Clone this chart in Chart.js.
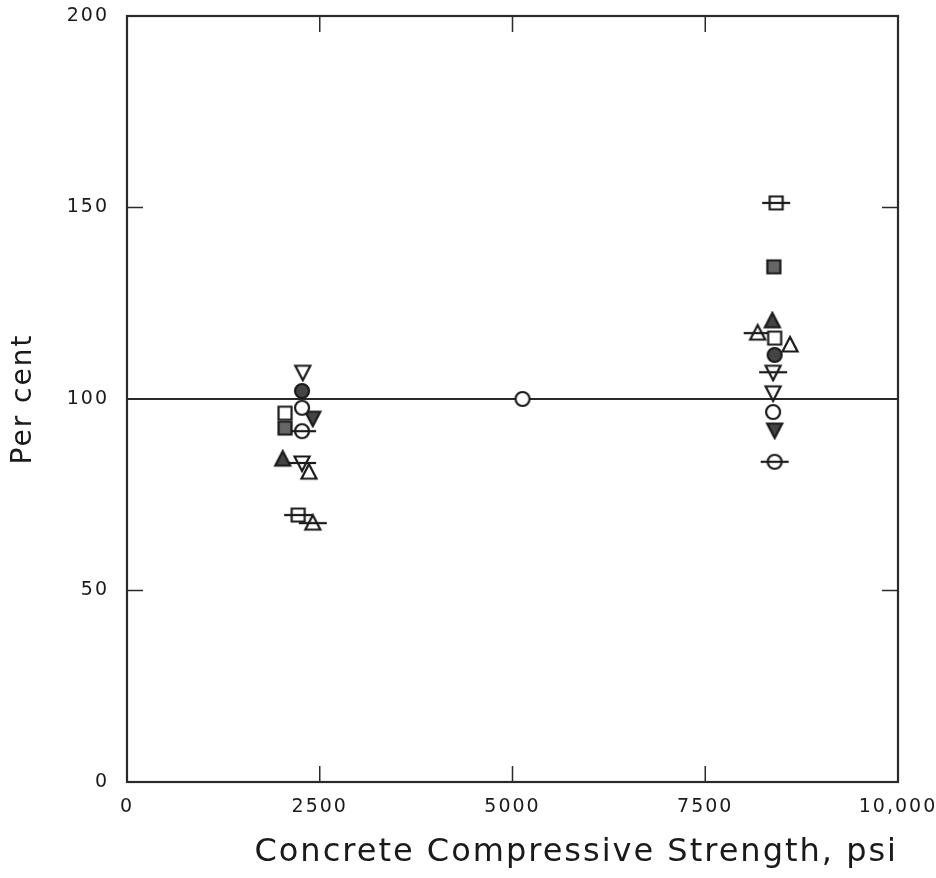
<!DOCTYPE html>
<html>
<head>
<meta charset="utf-8">
<title>Per cent vs Concrete Compressive Strength</title>
<script src="https://cdn.jsdelivr.net/npm/chart.js@4.4.1/dist/chart.umd.min.js"></script>
<style>
    html, body { margin: 0; padding: 0; background: #fff; }
    #chart { display: block; }
</style>
</head>
<body>
<canvas id="chart" width="936" height="878"></canvas>
<script>
// Symbols, one per series (each series has a low- and a high-strength point)
const symbols = ['openDown', 'filledCircle', 'openSquare', 'openCircle', 'filledDown', 'graySquare',
                 'barCircle', 'filledUp', 'barDown', 'openUp', 'barSquare', 'barUp'];
// Low-strength group (about 2300 psi)
const lowStrength = [2280, 2270, 2050, 2270, 2410, 2050, 2270, 2020, 2270, 2360, 2220, 2410];
const lowPercent  = [107.0, 102.1, 96.3, 97.7, 95.0, 92.4, 91.6, 84.3, 83.3, 80.9, 69.7, 67.6];
// High-strength group (about 8400 psi)
const highStrength = [8380, 8400, 8400, 8380, 8400, 8390, 8400, 8370, 8380, 8600, 8420, 8180];
const highPercent  = [101.6, 111.5, 115.9, 96.6, 91.9, 134.5, 83.6, 120.4, 107.0, 114.1, 151.2, 117.2];
// Reference specimen and 100 % line
const controlStrength = [5130];
const controlPercent = [100];
const refLineX = [0, 10000];
const refLineY = [100, 100];
// Axis ticks
const xTicks = [0, 2500, 5000, 7500, 10000];
const xTickLabels = ['0', '2500', '5000', '7500', '10,000'];
const yTicks = [0, 50, 100, 150, 200];

const INK = '#1a1a1a';

// Draw a marker glyph on a small canvas
function makeMarker(name) {
    const bar = name.startsWith('bar');
    const w = bar ? 30 : 20, h = 20;
    const c = document.createElement('canvas');
    c.width = w; c.height = h;
    const g = c.getContext('2d');
    const cx = w / 2, cy = h / 2;
    let fill = '#fff';
    if (name.startsWith('filled')) fill = '#444';
    if (name === 'graySquare') fill = '#666';
    g.lineWidth = 2.2;
    g.strokeStyle = INK;
    g.fillStyle = fill;
    g.beginPath();
    if (/Circle/.test(name)) {
        g.arc(cx, cy, 7, 0, Math.PI * 2);
    } else if (/Square/.test(name)) {
        g.rect(cx - 6.5, cy - 6.5, 13, 13);
    } else if (/Up/.test(name)) {
        g.moveTo(cx, cy - 8); g.lineTo(cx + 7.5, cy + 6.5); g.lineTo(cx - 7.5, cy + 6.5); g.closePath();
    } else {
        g.moveTo(cx, cy + 8); g.lineTo(cx + 7.5, cy - 6.5); g.lineTo(cx - 7.5, cy - 6.5); g.closePath();
    }
    g.fill();
    g.stroke();
    if (bar) {
        g.beginPath();
        g.moveTo(1, cy); g.lineTo(w - 1, cy);
        g.stroke();
    }
    return c;
}

const datasets = symbols.map((s, i) => ({
    label: s,
    data: [{ x: lowStrength[i], y: lowPercent[i] }, { x: highStrength[i], y: highPercent[i] }],
    pointStyle: makeMarker(s),
    pointRadius: 8,
    showLine: false,
    order: 1
}));

datasets.push({
    label: 'control',
    data: controlStrength.map((x, i) => ({ x: x, y: controlPercent[i] })),
    pointStyle: makeMarker('openCircle'),
    pointRadius: 8,
    showLine: false,
    order: 1
});

datasets.push({
    label: '100 per cent',
    data: refLineX.map((x, i) => ({ x: x, y: refLineY[i] })),
    showLine: true,
    borderColor: '#2a2a2a',
    borderWidth: 2,
    pointRadius: 0,
    order: 2
});

// Frame with short inward ticks on all four sides
const framePlugin = {
    id: 'frame',
    afterDatasetsDraw(chart) {
        const { ctx, chartArea: a, scales: { x, y } } = chart;
        ctx.save();
        ctx.strokeStyle = '#2a2a2a';
        ctx.lineWidth = 2.2;
        ctx.strokeRect(a.left, a.top, a.right - a.left, a.bottom - a.top);
        ctx.lineWidth = 1.5;
        ctx.beginPath();
        xTicks.slice(1, -1).forEach(v => {
            const px = x.getPixelForValue(v);
            ctx.moveTo(px, a.bottom); ctx.lineTo(px, a.bottom - 16);
            ctx.moveTo(px, a.top); ctx.lineTo(px, a.top + 16);
        });
        yTicks.slice(1, -1).forEach(v => {
            const py = y.getPixelForValue(v);
            ctx.moveTo(a.left, py); ctx.lineTo(a.left + 16, py);
            ctx.moveTo(a.right, py); ctx.lineTo(a.right - 16, py);
        });
        ctx.stroke();
        ctx.restore();
    }
};

// White page and the wide lettering of the original
const pagePlugin = {
    id: 'page',
    beforeDraw(chart) {
        const ctx = chart.ctx;
        ctx.save();
        ctx.fillStyle = '#fff';
        ctx.fillRect(0, 0, chart.width, chart.height);
        ctx.restore();
        ctx.letterSpacing = '2px';
    }
};

new Chart(document.getElementById('chart'), {
    type: 'scatter',
    data: { datasets: datasets },
    options: {
        responsive: false,
        animation: false,
        devicePixelRatio: 1,
        layout: { padding: { top: 16, right: 38, left: 0, bottom: 0 } },
        plugins: {
            legend: { display: false },
            tooltip: { enabled: false }
        },
        scales: {
            x: {
                type: 'linear',
                min: 0,
                max: 10000,
                afterBuildTicks: scale => { scale.ticks = xTicks.map(v => ({ value: v })); },
                afterFit: scale => {
                    scale.height = 96;
                    scale.paddingLeft = 0;
                    scale.paddingRight = 0;
                },
                grid: { display: false },
                border: { display: false },
                ticks: {
                    padding: 6,
                    maxRotation: 0,
                    color: INK,
                    font: { family: 'DejaVu Sans', size: 19 },
                    callback: (v, i) => xTickLabels[i]
                },
                title: {
                    display: true,
                    text: 'Concrete Compressive Strength, psi',
                    align: 'end',
                    color: INK,
                    font: { family: 'DejaVu Sans', size: 32 },
                    padding: { top: 0, bottom: 6 }
                }
            },
            y: {
                type: 'linear',
                min: 0,
                max: 200,
                afterBuildTicks: scale => { scale.ticks = yTicks.map(v => ({ value: v })); },
                afterFit: scale => {
                    scale.width = 127;
                    scale.paddingTop = 0;
                    scale.paddingBottom = 0;
                },
                grid: { display: false },
                border: { display: false },
                ticks: {
                    padding: 10,
                    color: INK,
                    font: { family: 'DejaVu Sans', size: 19 }
                },
                title: {
                    display: true,
                    text: 'Per cent',
                    color: INK,
                    font: { family: 'DejaVu Sans', size: 28 },
                    padding: { top: 7, bottom: 0 }
                }
            }
        }
    },
    plugins: [pagePlugin, framePlugin]
});
</script>
</body>
</html>
